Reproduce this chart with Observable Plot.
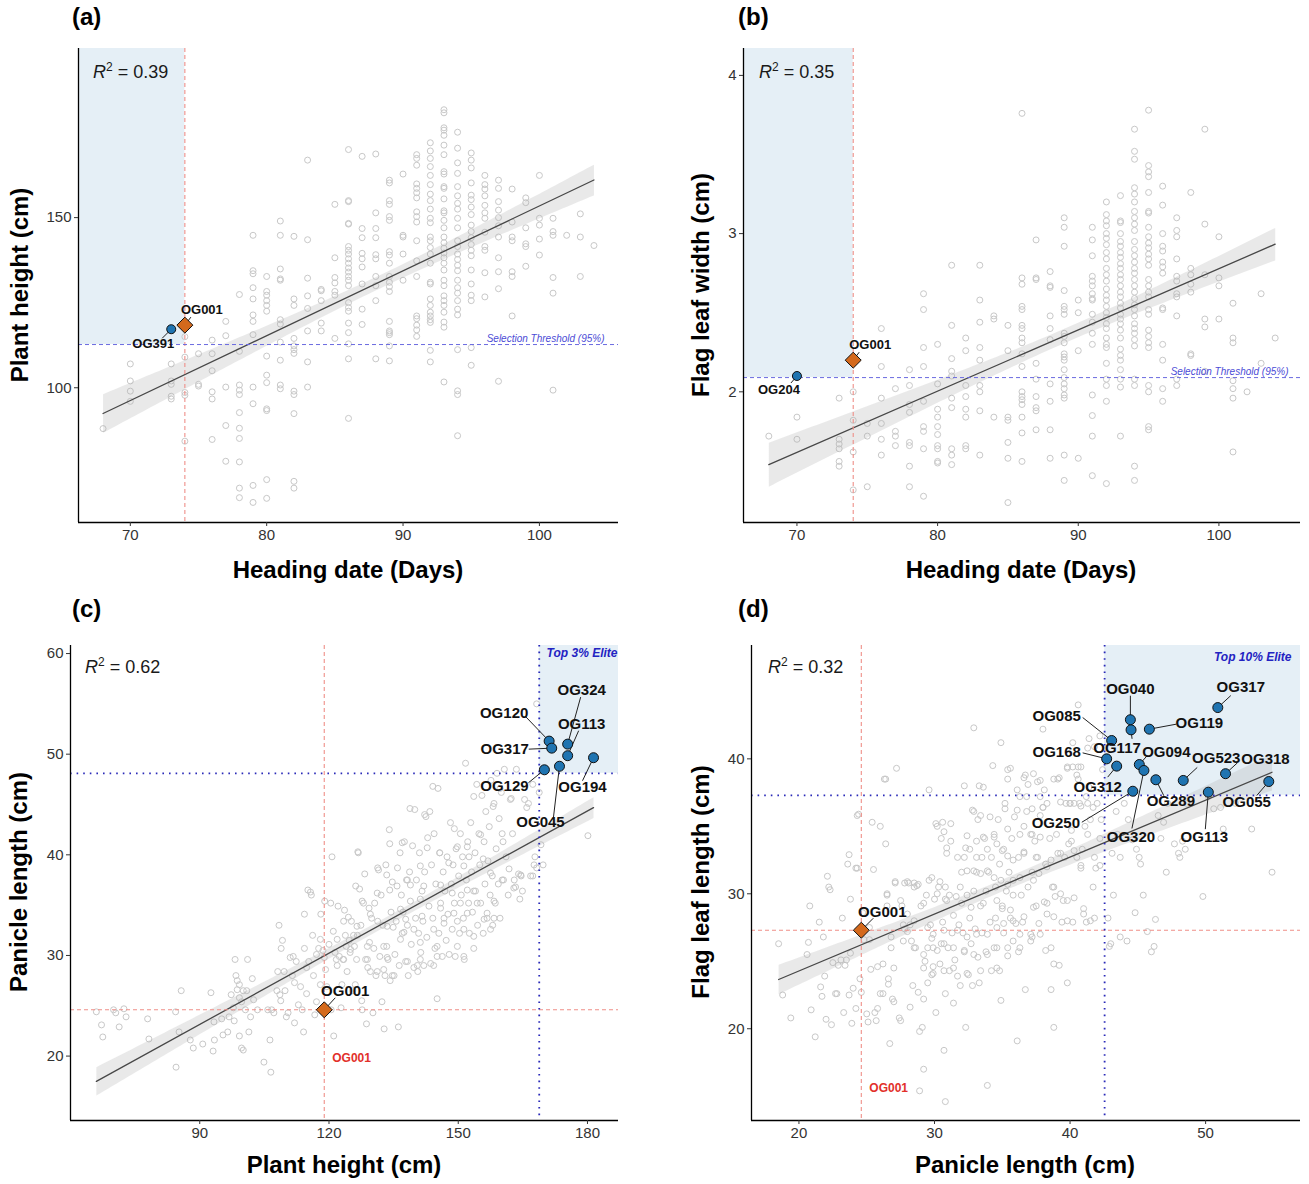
<!DOCTYPE html>
<html>
<head>
<meta charset="utf-8">
<script src="https://cdn.jsdelivr.net/npm/d3@7"></script>
<script src="https://cdn.jsdelivr.net/npm/@observablehq/plot@0.6"></script>
<style>
  body { margin: 0; background: #fff; font-family: "Liberation Sans", Arial, sans-serif; }
  #root { position: relative; width: 1309px; height: 1184px; overflow: hidden; background: #fff; }
  .panel { position: absolute; }
  .tag { position: absolute; font-weight: bold; font-size: 24px; line-height: 24px; color: #000; }
  .xt, .yt { position: absolute; width: 600px; font-weight: bold; font-size: 24px; line-height: 24px; text-align: center; color: #000; white-space: nowrap; }
  .yt { transform: rotate(-90deg); transform-origin: 50% 50%; }
  .r2 { position: absolute; font-size: 18px; line-height: 18px; color: #1a1a1a; white-space: nowrap; }
  .r2 sup { font-size: 12px; line-height: 0; vertical-align: 7px; }
</style>
</head>
<body>
<div id="root"></div>
<script>
// ---------------- DATA ----------------
// (a) Heading date (days) -> plant heights (cm) observed at that day
const headingVsHeight = [
  [68, [88]],
  [70, [107, 102, 99, 96]],
  [73, [107, 102, 101, 97.5, 96.7]],
  [74, [115, 109, 98.6, 97.8, 84.3]],
  [75, [110, 101, 100.5]],
  [76, [114, 110, 105, 98.8, 96.7, 84.8]],
  [77, [119.5, 115.3, 100.2, 88.9, 78.4]],
  [78, [127.4, 110.7, 100.8, 99.3, 98, 92.7, 88.1, 85.1, 78.2, 70.5, 67.7]],
  [79, [144.8, 134.4, 133.5, 129.4, 126.1, 121.4, 119.5, 115.6, 100.2, 95.3, 71.3, 66.3]],
  [80, [132.7, 128.3, 127.2, 125.6, 124.2, 122.5, 109.3, 103.7, 101.5, 93.8, 93.3, 73, 67.5]],
  [81, [149, 144.8, 134.9, 132, 131.6, 120, 118.7, 113.4, 108.1, 100.8, 99.7]],
  [82, [144.5, 126.1, 124.2, 114.5, 112.3, 111.2, 110.1, 99, 98, 92.4, 72.5, 70.5]],
  [83, [166.9, 143.5, 132.2, 127, 123.3, 116.7, 107.6, 100.2]],
  [84, [128.9, 128.5, 125.6, 119, 116.7]],
  [85, [153.9, 138.2, 132.4, 130.8, 128.3, 127.2, 114.5]],
  [86, [170, 155, 154.7, 148.3, 148.1, 141.5, 140.4, 139.3, 137.9, 136.6, 135.2, 134, 132.7, 131.6, 130, 125, 123.6, 122.5, 119, 116.2, 112.9, 108.5, 91]],
  [87, [168, 146.8, 144.1, 139.5, 137.9, 135.5, 130.5, 123.1, 118.6]],
  [88, [168.7, 151.4, 146.8, 144.1, 139.1, 137.9, 132.7, 130, 125.6, 108.5]],
  [89, [161, 160.2, 155, 153.9, 150.3, 149.2, 140, 139, 136.6, 132.7, 131, 129.7, 128.3, 119.5, 116.7, 116.2, 115.6, 112.3, 107.9]],
  [90, [162.8, 144.8, 144.3, 139.3, 131.6]],
  [91, [168.5, 167.4, 165.4, 159.9, 158.6, 157.3, 155.8, 151.7, 150.3, 148.7, 143.2, 137.3, 132.7, 121.1, 120.3, 118.4, 117, 115.1]],
  [92, [172, 169.6, 167.4, 165, 162.4, 159.7, 156.9, 155, 152.5, 149.8, 148.5, 144.3, 143.2, 141.2, 139.3, 136.6, 131, 130.5, 126.1, 124.2, 122.2, 121.1, 120, 119.2, 111, 107.6]],
  [93, [181.7, 180.8, 176.4, 175.7, 174.2, 171.3, 168.5, 163.5, 162.8, 159.1, 158.6, 155.5, 152, 151.4, 149.2, 147, 144.3, 142.6, 141, 139.6, 138.2, 136.6, 134.6, 131.6, 130, 127, 125.6, 124.2, 122.2, 119.3, 117.8, 101.7]],
  [94, [175.1, 170.4, 166.1, 163, 159.1, 156.4, 154.2, 152.5, 149.8, 147, 143.2, 141.5, 139.3, 137.7, 136, 134.4, 131.6, 129.4, 127.8, 125.6, 123.1, 121.4, 111.2, 99.1, 98, 85.9]],
  [95, [169, 166.9, 164.6, 160.2, 156.6, 155.3, 153.1, 150.9, 147.8, 145.9, 144.1, 142.1, 140.4, 138.8, 134.6, 130.5, 127.2, 125.6, 111.8, 106.6]],
  [96, [162.4, 159.7, 158.4, 156.4, 153.6, 151.4, 149.8, 145.7, 141.5, 140.4, 133.8, 126.7]],
  [97, [161, 158.6, 154.7, 152.2, 150, 147.6, 144.3, 138.2, 134.1, 129.1, 101.9]],
  [98, [158.4, 148.7, 144.3, 143.2, 134.1, 132.7, 121.1]],
  [99, [155.8, 154.4, 147, 142.3, 141.5, 135.7]],
  [100, [162.4, 149.8, 147.8, 143.7, 139]],
  [101, [149.8, 145.9, 144.8, 132.4, 127.8, 99.3]],
  [102, [144.8]],
  [103, [151.1, 144.3, 132.7]],
  [104, [141.8]]
];

// (b) Heading date (days) -> flag leaf widths (cm)
const headingVsFlagWidth = [
  [68, [1.72]],
  [70, [1.84, 1.70]],
  [73, [1.96, 1.70, 1.67, 1.64, 1.56, 1.53]],
  [74, [2.0, 1.82, 1.62, 1.38]],
  [75, [1.80, 1.72, 1.40]],
  [76, [2.40, 2.16, 1.96, 1.80, 1.70, 1.60]],
  [77, [2.02, 1.75, 1.72, 1.66]],
  [78, [2.14, 2.04, 1.92, 1.87, 1.68, 1.66, 1.53, 1.40]],
  [79, [2.62, 2.52, 2.28, 2.16, 1.94, 1.78, 1.75, 1.64, 1.34]],
  [80, [2.30, 2.05, 1.89, 1.84, 1.78, 1.73, 1.66, 1.64, 1.56, 1.55]],
  [81, [2.80, 2.42, 2.21, 2.13, 2.10, 1.96, 1.90, 1.64, 1.60, 1.54]],
  [82, [2.34, 2.26, 2.04, 1.97, 1.89, 1.84, 1.66, 1.64]],
  [83, [2.80, 2.58, 2.44, 2.28, 2.20, 2.04, 2.0, 1.88, 1.60]],
  [84, [2.48, 2.46, 1.84]],
  [85, [2.42, 2.26, 1.84, 1.82, 1.68, 1.58, 1.30]],
  [86, [3.76, 2.72, 2.68, 2.54, 2.52, 2.42, 2.40, 2.34, 2.31, 2.24, 2.16, 2.0, 1.97, 1.95, 1.92, 1.84, 1.74, 1.56]],
  [87, [2.96, 2.72, 2.71, 2.18, 2.08, 1.97, 1.90, 1.88, 1.76]],
  [88, [2.76, 2.67, 2.66, 2.48, 2.40, 2.33, 2.05, 1.94, 1.76, 1.58]],
  [89, [3.10, 3.04, 2.92, 2.64, 2.54, 2.52, 2.49, 2.37, 2.35, 2.31, 2.24, 2.22, 2.20, 2.14, 2.09, 2.05, 2.02, 1.98, 1.96, 1.60, 1.44]],
  [90, [2.58, 2.50, 2.26, 1.58]],
  [91, [3.04, 2.96, 2.86, 2.73, 2.70, 2.67, 2.62, 2.59, 2.58, 2.49, 2.44, 2.37, 2.30, 1.98, 1.85, 1.72, 1.47]],
  [92, [3.20, 3.12, 3.08, 3.05, 3.0, 2.97, 2.93, 2.88, 2.84, 2.78, 2.74, 2.70, 2.65, 2.61, 2.58, 2.54, 2.50, 2.47, 2.43, 2.40, 2.34, 2.30, 2.28, 2.18, 2.08, 2.04, 1.94, 1.42]],
  [93, [3.24, 3.08, 3.07, 3.0, 2.95, 2.92, 2.88, 2.85, 2.81, 2.78, 2.74, 2.71, 2.67, 2.63, 2.60, 2.56, 2.53, 2.49, 2.46, 2.43, 2.39, 2.34, 2.27, 2.23, 2.20, 2.14, 2.08, 2.03, 1.72]],
  [94, [3.66, 3.52, 3.47, 3.29, 3.25, 3.20, 3.14, 3.10, 3.06, 3.02, 2.95, 2.90, 2.86, 2.82, 2.78, 2.75, 2.71, 2.67, 2.63, 2.59, 2.55, 2.52, 2.48, 2.43, 2.40, 2.37, 2.33, 2.29, 2.08, 2.04, 1.53, 1.44]],
  [95, [3.78, 3.43, 3.39, 3.36, 3.26, 3.14, 3.13, 3.04, 2.98, 2.94, 2.91, 2.87, 2.84, 2.80, 2.71, 2.67, 2.63, 2.60, 2.52, 2.49, 2.39, 2.35, 2.31, 2.28, 2.04, 2.0, 1.78, 1.76]],
  [96, [3.30, 3.18, 3.0, 2.92, 2.89, 2.82, 2.79, 2.75, 2.53, 2.52, 2.30, 2.20, 2.02, 1.94]],
  [97, [3.10, 3.02, 2.98, 2.84, 2.73, 2.70, 2.62, 2.60, 2.48, 2.08, 2.04]],
  [98, [3.26, 2.78, 2.74, 2.68, 2.63, 2.24, 2.23]],
  [99, [3.66, 3.06, 2.74, 2.46, 2.41, 2.13]],
  [100, [2.98, 2.72, 2.67, 2.46]],
  [101, [2.56, 2.34, 2.31, 2.07, 2.02, 1.96, 1.62]],
  [102, [2.0]],
  [103, [2.62, 2.18]],
  [104, [2.34]]
];

// (c) [plant height (cm), panicle length (cm)]
const heightVsPanicle = [
  [66,24.4],[67.2,23.1],[67.5,21.9],[70,24.6],[70.5,24.3],[71.3,22.9],[72.4,24.7],[72.9,23.9],[77.9,23.7],[78.2,21.7],
  [84.4,24.4],[84.5,18.9],[85.2,22.4],[85.7,26.5],[87.8,21.6],[88.5,20.8],[90.7,21.2],[92.6,26.3],[93.3,23.4],[93.1,20.5],
  [93.4,21.6],[95.1,23.7],[95.4,22.1],[96.5,22.4],[96.8,23.9],[97.3,26.1],[97.8,24.8],[98,23.5],[98.2,29.6],[98.4,28],
  [98.7,27.5],[98.7,26.6],[99.2,27.1],[99.2,25.8],[99.7,25.4],[99.2,22],[99.7,20.8],[100.1,20.6],[100.1,26.5],[100.6,24.6],
  [100.9,26.5],[101.1,29.6],[101.4,22.4],[101.8,23.9],[102.2,27.7],[102.5,25.6],[103.4,24.6],[104.9,19.4],[105.8,24.6],[106.3,21.6],
  [106.5,18.4],[106.7,24.6],[107.2,24.3],[108.1,28.4],[107.9,26.5],[108.4,33],[108.6,26.1],[108.8,25.5],[108.9,30.7],[109.2,31.5],
  [109.6,28.4],[109.8,26.5],[110.1,23.9],[110.5,24.3],[111,29.8],[111.5,28],[111.7,29.9],[112,27.3],[112,23.3],[112.4,29.4],
  [112.9,25.1],[113.4,26.9],[113.8,24.6],[114.1,22.4],[114.3,34.1],[114.3,30.7],[114.8,28.8],[114.8,26.2],[115.3,29.4],[115.7,36.3],
  [115.9,36],[116.2,32],[116.4,28],[116.7,24.1],[117.1,25.4],[117.1,30.1],[117.6,30.7],[118,27.1],[118.1,34.1],[118.6,30.5],
  [118.9,29.8],[119,35.4],[119.2,28.6],[119.5,26.9],[120,31.1],[120.5,24.6],[120.7,39.8],[121,32.4],[121.1,22],[121.4,30.3],
  [121.7,29.6],[121.9,29],[122.1,34.9],[122.4,29.9],[122.8,24.8],[123,27.1],[123.3,29.6],[123.6,34.5],[123.8,32],[124,30.9],
  [124.2,28.4],[124.5,33.8],[124.7,31.5],[124.9,30.3],[125.2,33.4],[125.5,26.5],[125.7,32],[125.9,30.9],[126.1,27.1],[126.4,29.6],
  [126.6,32],[126.8,40.2],[127.1,36.6],[127.4,33],[127.6,25.5],[127.7,24.6],[128,35.2],[128.3,38.1],[128.5,29.6],[128.7,23.2],
  [129,28.8],[129.3,34.7],[129.4,31.3],[129.6,28.4],[129.9,33.7],[130.2,24.3],[130.4,30.7],[130.6,35.2],[130.9,28],[131.2,28.4],
  [131.3,33.4],[131.5,38.5],[131.8,29.9],[132.1,36],[132.3,25.4],[132.5,33],[132.8,22.7],[133,28],[133.2,39],[133.4,30.9],
  [133.7,29.6],[134,42.5],[134.2,27.5],[134.4,34.3],[134.7,37.3],[134.9,32.8],[135.1,28],[135.3,30.1],[135.6,33.4],[135.9,38.7],
  [136.1,22.9],[136.3,29],[136.5,40.2],[136.8,36],[137,32.2],[137.2,34.3],[137.5,41.3],[137.8,29.4],[138,37.5],[138.2,33],
  [138.4,28],[138.7,38.3],[138.9,35.4],[139.1,31.1],[139.4,40.9],[139.7,28.8],[139.9,44.5],[140.1,33.7],[140.3,37.5],[140.6,28.4],
  [140.8,32.2],[141,40.2],[141.3,30.3],[141.6,36.4],[141.8,33.4],[142,29],[142.2,38.3],[142.5,43.8],[142.7,31.8],[142.9,41.7],
  [143.2,34.9],[143.4,44.3],[143.6,29.2],[143.8,39],[144.1,33.7],[144.4,42.1],[144.6,30.7],[144.8,37.1],[145.1,25.7],[145.3,46.6],
  [145.5,32.2],[145.7,40.2],[145.9,35.2],[146.3,29.9],[146.5,38.3],[146.7,33.7],[146.9,36.4],[147.2,31.5],[147.4,39.8],[147.6,34.1],
  [147.9,30.1],[148.2,43.2],[148.4,37.1],[148.6,32.6],[148.8,39],[149.1,35.2],[149.3,29.9],[149.5,40.6],[149.8,33.4],[150.1,37.9],
  [150.3,32.2],[150.5,42.1],[150.7,36],[151,39.8],[151.2,33.7],[151.4,29.6],[151.7,49.1],[151.9,37.5],[152.2,41.3],[152.4,35.2],
  [152.6,32.2],[152.9,43.2],[153.1,38.3],[153.3,34.3],[153.6,30.7],[153.9,40.2],[154,36.4],[154.3,47],[154.5,33],[154.8,42.1],
  [155,39],[155.2,35.2],[155.5,45.9],[155.8,32.2],[156,41.3],[156.2,37.1],[156.4,44.3],[156.7,33.7],[156.9,39.4],[157.2,42.8],
  [157.4,36],[157.6,47.4],[157.9,37.9],[158,33],[158.3,45.1],[158.6,35.2],[158.8,40.6],[159,48.1],[159.3,37.1],[159.5,43.6],
  [159.7,33.7],[160,46.2],[160.2,42.1],[160.5,37.5],[160.7,48.5],[161.1,39.8],[161.6,36],[162.1,45.5],[162.6,42.1],[163,37.5],
  [163.3,36.8],[163.5,48.5],[164,38.1],[164.3,35.6],[164.6,37.9],[164.9,36.4],[165.4,45.5],[165.9,44.7],[166.3,45.1],[166.8,37.9],
  [167.3,37.9],[167.8,39.8],[168.2,55],[168.2,38.7],[169.2,41],[169.7,39],[180.1,41.9],[168.8,46.2],[167.3,47],
  [126.2,36.9],[131.2,36.2],[134.1,36.5],[135.8,36.9],[138.9,37.0],[142.0,36.9],[145.9,37.0],[148.6,36.2],[152.1,36.5],[153.6,36.4],
  [150.5,35.2],[154.4,35.2],[158.3,35.4],[141.2,35.6],[136.6,34.6],[137.8,33.6],[141.6,33.9],[145.9,34.7],[149.0,34.2],[152.1,34.2],
  [156.7,34.2],[158.3,33.7],[123.4,33.4],[126.5,32.9],[129.6,34.1],[133.5,32.9],[137.4,32.3],[139.7,32.6],[144.3,32.6],[146.7,33.2],
  [151.3,32.6],[156.0,33.6],[157.5,32.6],[118.0,31.6],[121.9,31.6],[125.0,30.6],[128.9,30.9],[132.7,30.9],[136.6,31.6],[141.2,31.3],
  [145.1,30.9],[149.8,30.9],[153.6,31.9],[123.4,29.6],[128.9,29.6],[133.5,29.8],[138.2,29.4],[141.2,29.6],[145.1,29.9],[151.3,29.9],
  [132.7,28.6],[140.5,29.0],[144.3,29.0],[134.7,28.0],[131.3,38.7],[133.4,38.0],[138.2,37.5],[141.2,38.9],[147.8,39.2],[151.3,38.9],
  [157.5,38.2],[161.8,38.6],[164.5,38.0],[160.2,37.5],[162.9,36.7],[134.1,41.1],[137.0,41.2],[142.8,40.7],[145.7,40.2],[149.8,40.8],
  [152.5,39.8],[155.8,39.6],[142.2,44.0],[149.1,42.6],[152.1,40.8],[155.2,42.0],[160.4,41.3],[158.1,44.8],[153.6,45.8],[159.7,46.6],
  [162.3,45.6],[144.1,46.8],[138.8,44.6],[126.7,40.3],[115.1,36.5],[120.4,35.2],[127.7,35.4],[167.6,39.0]
];

// (d) [panicle length (cm), flag leaf length (cm)]
const panicleVsFlagLength = [
  [18.5,26.3],[18.8,22.5],[19.4,20.8],[20.6,25.5],[20.7,26.4],[20.8,29.1],[20.9,21.4],[21.2,19.4],[21.5,27.9],[21.6,23.1],
  [21.7,22.4],[21.8,26.8],[21.9,23.9],[22,20.7],[22.1,31.3],[22.2,30.5],[22.3,30.3],[22.4,20.3],[22.5,24.9],[22.7,22.6],
  [22.8,22.6],[22.9,24.7],[23.1,25.1],[23.2,28.2],[23.3,21.2],[23.4,24.7],[23.5,25.1],[23.6,32.2],[23.7,22.5],[23.8,25.6],
  [23.8,29.6],[23.9,20.4],[24,23],[24.2,21.5],[24.2,31.9],[24.3,35.8],[24.4,35.9],[24.5,23.7],[24.6,22.7],[24.7,28.6],
  [24.8,26.6],[25,21.1],[25.1,20.5],[25.2,27.5],[25.2,26.6],[25.3,24.4],[25.4,35.3],[25.5,31.8],[25.6,21.2],[25.7,20.6],
  [25.8,24.6],[25.8,21.5],[26,22.6],[26,35],[26.2,24.8],[26.2,22.6],[26.3,38.5],[26.4,33.7],[26.5,29.9],[26.5,29.1],
  [26.6,23.7],[26.6,23.3],[26.7,18.9],[26.8,26.8],[26.8,26],[26.9,22.2],[27,22],[27.1,30.8],[27.2,39.3],[27.4,20.8],
  [27.5,20.6],[27.6,29.1],[27.7,27.7],[27.8,30.8],[27.8,27.4],[28,27.2],[28.1,30.8],[28.2,21.6],[28.2,27.7],[28.3,26.5],
  [28.4,23.2],[28.5,30.8],[28.6,26],[28.7,30.6],[28.8,22.7],[28.9,19.8],[28.9,15.4],[29,29.1],[29.1,20.1],[29.2,22.2],
  [29.2,17],[29.3,25],[29.4,29.9],[29.5,26],[29.5,23.4],[29.6,31],[29.7,27.7],[29.8,24],[29.8,26.7],[29.9,24.6],
  [30,29.6],[30.1,21.2],[30.2,35],[30.2,25.8],[30.3,30.5],[30.4,24.8],[30.5,34.1],[30.5,26.3],[30.6,27.9],[30.7,18.4],
  [30.8,14.6],[30.8,29.6],[30.8,22.6],[30.9,33],[31,26],[31.1,29.9],[31.1,24.3],[31.2,33.9],[31.3,27.1],[31.4,21.9],
  [31.4,28.4],[31.5,25.1],[31.6,29.8],[31.7,23.9],[31.8,27.7],[31.9,23.2],[32,31.6],[32.1,27.1],[32.2,25.7],[32.2,32.7],
  [32.3,20.1],[32.4,29.9],[32.5,24],[32.6,28.2],[32.6,33.3],[32.7,26.3],[32.8,23.2],[32.9,36.1],[32.9,30.2],[33,27.4],
  [33.1,31.6],[33.2,25.3],[33.2,35.5],[33.3,23.4],[33.4,29.1],[33.5,32.7],[33.5,27.1],[33.6,37.9],[33.7,34.1],[33.8,30.2],
  [33.8,25.7],[33.9,15.8],[34,31.6],[34.1,27.9],[34.2,32.7],[34.2,24.3],[34.3,39.5],[34.4,34.4],[34.5,28.2],[34.5,30.5],
  [34.6,26],[34.7,35.5],[34.8,24.3],[34.8,32.2],[34.9,22.1],[35,29.1],[35.1,33.3],[35.1,27.1],[35.2,36.7],[35.3,30.2],
  [35.4,39.2],[35.4,25.4],[35.5,31.6],[35.6,28.2],[35.7,34.1],[35.8,26.5],[35.8,29.9],[35.9,35.7],[36,27.8],[36.1,19.1],
  [36.2,32.7],[36.2,25.7],[36.3,37.2],[36.4,29.9],[36.5,27.9],[36.6,33],[36.6,35],[36.7,22.9],[36.8,36.1],[36.9,30.5],
  [36.9,38.1],[37.1,34.4],[37.2,26.8],[37.2,31.6],[37.3,38.9],[37.4,33.9],[37.5,29.1],[37.5,32.7],[37.7,27.8],[37.8,35.8],
  [37.8,38.4],[38,36.4],[38.1,29.4],[38.2,32.2],[38.2,25.8],[38.3,28.5],[38.5,34.1],[38.6,22.9],[38.7,30.5],[38.8,20.1],
  [38.8,24.8],[38.9,29.8],[39.1,38.5],[39.1,33],[39.2,24.7],[39.4,27.9],[39.5,29.5],[39.6,32.7],[39.7,36.7],[39.8,23.4],
  [39.8,39.4],[39.9,33.7],[40,36.7],[40.1,34.7],[40.2,39.4],[40.2,27.9],[40.3,36.7],[40.5,32.7],[40.6,44],[40.6,39.4],
  [40.7,36.7],[40.8,31.9],[40.9,33.3],[41.1,35],[41.2,27.9],[41.2,37.2],[41.3,40.8],[41.4,41.5],[41.5,35.5],[41.7,30.5],
  [41.8,28.2],[41.8,32.7],[41.9,31.9],[42,36.7],[42.2,34.1],[42.2,41.7],[42.3,35.5],[42.4,39.2],[42.8,28.2],[42.9,26.1],
  [43.1,33],[43.2,29.9],[43.4,36.1],[43.5,34.4],[43.7,32.7],[44,36.7],[44.2,26.5],[44.3,35.5],[44.6,34],[44.8,28.6],
  [44.9,33.3],[45.1,32.7],[45.2,32.2],[45.4,29.9],[45.7,27.2],[46,25.7],[46.2,26.1],[46.3,28.1],[46.5,35.8],[46.7,34.1],
  [46.9,35.3],[47.1,31.6],[47.2,36.7],[47.7,33.7],[48,33],[48.1,32.7],[48.3,33.9],[48.5,33.3],[48.6,36.7],[49.8,29.8],
  [50.2,37.2],[50.6,36.3],[51.1,36.4],[51.3,34.8],[52.2,36.7],[53.4,34.8],[54.9,31.6],
  [32.9,42.3],[34.9,41.2],[35.6,39.3],[36.6,38.6],[38,42.2],[39.2,38.6],[40.2,41.2],[40.6,38.5],[41.8,40.9],[23.7,32.9],[24.3,31.9],
  [29.6,37.7],[32.2,38.0],[33.3,38.0],[35.4,38.5],[36.7,38.8],[37.6,38.3],[38.1,37.7],[38.8,38.5],[39.8,39.3],[40.8,39.4],
  [40.5,38.8],[41.4,37.9],[36.1,37.7],[36.8,37.2],[37.8,37.2],[38.3,36.7],[39.3,36.8],[40.0,36.7],[40.8,36.5],[41.3,36.7],
  [41.7,36.4],[32.8,36.2],[33.4,35.8],[34.1,35.7],[35.2,36.3],[36.1,36.2],[37.2,36.3],[38.0,36.4],[30.1,35.2],[30.6,35.3],
  [31.2,35.2],[30.7,34.6],[32.4,34.3],[33.1,33.9],[33.6,34.2],[34.4,34.2],[35.4,34.8],[36.3,34.4],[37.2,34.4],[37.8,34.2],
  [39.0,34.4],[40.1,33.9],[41.3,34.4],[30.9,33.4],[31.7,32.7],[32.3,33.4],[33.1,32.7],[33.9,33.3],[34.6,33.7],[35.0,33.2],
  [35.4,32.8],[35.8,32.5],[36.6,33.1],[37.6,32.7],[38.6,32.5],[39.3,33.0],[40.3,33.2],[40.8,32.1],[42.2,32.1],[27.1,30.9],
  [28.0,30.9],[28.5,30.5],[28.8,30.7],[29.8,31.2],[30.4,30.9],[30.8,30.5],[31.9,30.5],[32.4,31.7],[32.9,31.7],[33.4,31.5],
  [33.9,31.7],[34.4,31.2],[34.9,31.0],[35.4,30.7],[35.8,31.0],[36.3,31.2],[37.3,31.0],[37.7,31.5],[38.3,32.0],[38.8,30.5],
  [39.3,30.0],[39.8,29.5],[40.3,29.7],[41.0,28.9],[26.5,30.0],[27.5,29.5],[28.0,28.5],[29.2,29.3],[30.2,30.0],[30.9,29.5],
  [32.0,29.3],[32.7,29.0],[33.6,29.3],[34.6,29.5],[35.0,28.9],[35.6,28.8],[36.6,28.3],[37.3,29.0],[38.3,29.3],[38.8,28.3],
  [39.8,28.0],[41.0,28.5],[41.5,28.0],[28.5,28.0],[29.5,27.5],[29.9,27.0],[30.7,27.3],[31.7,27.3],[32.4,26.8],[33.1,27.0],
  [33.9,27.0],[34.6,27.5],[35.1,27.8],[35.8,28.0],[36.3,27.0],[37.1,27.0],[37.8,27.0],[38.6,26.0],[27.7,26.5],[28.5,26.0],
  [29.2,25.5],[29.9,26.0],[30.7,26.3],[31.4,26.0],[32.2,25.8],[32.9,25.5],[33.9,25.5],[34.4,26.0],[35.4,26.0],[36.3,26.0],
  [37.1,26.5],[27.0,24.5],[29.2,24.5],[29.9,24.1],[30.7,24.3],[31.4,24.5],[32.4,24.1],[33.4,24.3],[34.6,24.5],[43.0,26.3],
  [43.7,26.8],[26.4,38.5]
];

// Highlighted accessions: [id, x, y]
const eliteA = [["OG391", 73, 117.2]];
const checkA = ["OG001", 74, 118.4];
const eliteB = [["OG204", 70, 2.10]];
const checkB = ["OG001", 74, 2.20];
const eliteC = [
  ["OG120", 171.1, 51.3], ["OG317", 171.7, 50.6], ["OG324", 175.4, 51.0], ["OG113", 175.4, 49.85],
  ["OG194", 181.4, 49.65], ["OG045", 173.5, 48.8], ["OG129", 170.0, 48.45]
];
const checkC = ["OG001", 118.9, 24.6];
const eliteD = [
  ["OG317", 50.9, 43.8], ["OG040", 44.45, 42.9], ["OG117", 44.5, 42.15], ["OG119", 45.85, 42.2],
  ["OG085", 43.07, 41.36], ["OG168", 42.7, 40.0], ["OG312", 43.44, 39.46], ["OG094", 45.11, 39.58],
  ["OG320", 45.45, 39.14], ["OG289", 46.33, 38.45], ["OG523", 48.35, 38.4], ["OG318", 51.47, 38.9],
  ["OG055", 54.66, 38.32], ["OG113", 50.2, 37.53], ["OG250", 44.63, 37.6]
];
const checkD = ["OG001", 24.6, 27.3];

// Selection thresholds
const thresholdA = 112.7;
const thresholdB = 2.09;
const thresholdC = [168.8, 48.1];
const thresholdD = [42.55, 37.3];

const r2Values = ["0.39", "0.35", "0.62", "0.32"];
const tickValues = {
  ax: [70, 80, 90, 100], ay: [100, 150],
  bx: [70, 80, 90, 100], by: [2, 3, 4],
  cx: [90, 120, 150, 180], cy: [20, 30, 40, 50, 60],
  dx: [20, 30, 40, 50], dy: [20, 30, 40]
};

// ---------------- LAYOUT / STYLE CONFIG ----------------
// label offsets in px relative to point: [textDx, textDy, leaderDx, leaderDy]
const labelOffsets = {
  a: {OG001: [17, -15, 6, -8], OG391: [-18, 15, -9, 9]},
  b: {OG001: [17, -15, 6, -8], OG204: [-18, 14, -6, 7]},
  c: {OG120: [-45, -28, -24, -25], OG317: [-47, 1, -23, 1], OG324: [14, -54, 13, -47], OG113: [14, -32, 11, -25],
      OG194: [-11, 29, -11, 23], OG045: [-19, 56, -6, 51], OG129: [-40, 16, -16, 13], OG001: [21, -19, 11, -12]},
  d: {OG040: [0, -31, 0, -24], OG317: [23, -20, 13, -12], OG085: [-55, -24, -29, -23], OG119: [50, -6, 27, -5],
      OG117: [-14, 18, 1, 9], OG094: [27, -12, 8, -9], OG168: [-50, -7, -24, -6], OG312: [-19, 21, -9, 11],
      OG523: [33, -22, 14, -13], OG318: [40, -15, 12, -11], OG289: [15, 21, 8, 16], OG055: [-22, 21, -12, 14],
      OG250: [-77, 32, -51, 31], OG320: [-13, 67, -12, 58], OG113: [-4, 45, -3, 37], OG001: [21, -18, 12, -12]}
};

const BLUE_PT = "#1f74b1", ORANGE = "#d4691c", GRAY_PT = "#c8c8c8";
const RED_LINE = "#ef8f88", BLUE_DASH = "#6b6be0", BLUE_DOT = "#2a2ab8";
const FONT = "'Liberation Sans', Arial, Helvetica, sans-serif";

const toRec = ([id, x, y]) => ({id, x, y});
const root = document.getElementById("root");

function panel(cfg) {
  const {W, H, m, xd, yd} = cfg;
  const sx = Plot.scale({x: {domain: xd, range: [m.l, W - m.r]}});
  const sy = Plot.scale({y: {domain: yd, range: [H - m.b, m.t]}});
  const shift = (x, y, dx, dy) => [sx.invert(sx.apply(x) + dx), sy.invert(sy.apply(y) + dy)];
  const elite = cfg.elite.map(toRec);
  const check = toRec(cfg.check);
  const labelled = elite.concat([check]).map(d => {
    const o = cfg.offsets[d.id];
    const [tx, ty] = shift(d.x, d.y, o[0], o[1]);
    const [lx, ly] = shift(d.x, d.y, o[2], o[3]);
    return {...d, tx, ty, lx, ly};
  });
  const all = cfg.gray.concat(elite, [check]);
  const marks = [
    Plot.rect([cfg.rect], {x1: "x1", x2: "x2", y1: "y1", y2: "y2", fill: "#e5eff6"}),
    Plot.dot(cfg.gray, {x: "x", y: "y", r: 3, stroke: GRAY_PT, strokeWidth: 1, fill: "none"}),
    Plot.linearRegressionY(all, {x: "x", y: "y", stroke: "#474747", strokeWidth: 1.3, fill: "#b0b0b0", fillOpacity: 0.28}),
    ...cfg.lines,
    Plot.link(labelled, {x1: "x", y1: "y", x2: "lx", y2: "ly", stroke: "#222", strokeWidth: 1}),
    Plot.dot(elite, {x: "x", y: "y", r: cfg.eliteR, fill: BLUE_PT, stroke: "#111", strokeWidth: 1}),
    Plot.dot([check], {x: "x", y: "y", r: 7.2, symbol: "diamond2", fill: ORANGE, stroke: "#111", strokeWidth: 1}),
    Plot.text(labelled, {x: "tx", y: "ty", text: "id", fontWeight: "bold", fontSize: cfg.labelSize, fill: "#111"}),
    ...cfg.texts,
    Plot.ruleX([xd[0]], {stroke: "#000", strokeWidth: 1.3}),
    Plot.ruleY([yd[0]], {stroke: "#000", strokeWidth: 1.3}),
    Plot.axisX({ticks: cfg.xt, tickSize: 4, tickPadding: 3, fontSize: 15, label: null, tickFormat: d => String(d)}),
    Plot.axisY({ticks: cfg.yt, tickSize: 4, tickPadding: 3, fontSize: 15, label: null, tickFormat: d => String(d)})
  ];
  const svg = Plot.plot({
    width: W, height: H,
    marginLeft: m.l, marginRight: m.r, marginTop: m.t, marginBottom: m.b,
    x: {domain: xd}, y: {domain: yd},
    style: {fontFamily: FONT, color: "#333", background: "transparent", overflow: "visible"},
    marks
  });
  svg.classList.add("panel");
  svg.style.left = cfg.left + "px";
  svg.style.top = cfg.top + "px";
  root.appendChild(svg);
}

function addDiv(cls, html, left, top) {
  const d = document.createElement("div");
  d.className = cls; d.innerHTML = html;
  d.style.left = left + "px"; d.style.top = top + "px";
  root.appendChild(d);
  return d;
}

const thresholdText = (xd, y, dx) => Plot.text(["Selection Threshold (95%)"], {
  x: xd[1], y, text: d => d, textAnchor: "end", lineAnchor: "bottom", dx, dy: -3,
  fontSize: 10, fontStyle: "italic", fill: "#4b4bd6"
});
const eliteText = (label, xd, yd, dx, dy) => Plot.text([label], {
  x: xd[1], y: yd[1], text: d => d, textAnchor: "end", lineAnchor: "top", dx, dy,
  fontSize: 12, fontWeight: "bold", fontStyle: "italic", fill: "#2323c2"
});
const checkText = (x, y) => Plot.text(["OG001"], {
  x, y, text: d => d, textAnchor: "start", dx: 8, fontSize: 12, fontWeight: "bold", fill: "#e2302a"
});

// ---------- Panel (a) ----------
const xdA = [66.2, 105.8], ydA = [60.4, 199.7];
panel({
  left: 0, top: 0, W: 650, H: 590, m: {l: 78, r: 32, t: 48, b: 68}, xd: xdA, yd: ydA,
  xt: tickValues.ax, yt: tickValues.ay,
  gray: headingVsHeight.flatMap(([d, ys]) => ys.map(y => ({x: d, y}))),
  elite: eliteA, check: checkA, offsets: labelOffsets.a, eliteR: 4.5, labelSize: 13,
  rect: {x1: xdA[0], x2: checkA[1], y1: thresholdA, y2: ydA[1]},
  lines: [
    Plot.ruleX([checkA[1]], {stroke: RED_LINE, strokeDasharray: "4,3", strokeWidth: 1.1}),
    Plot.ruleY([thresholdA], {stroke: BLUE_DASH, strokeDasharray: "4,3", strokeWidth: 1})
  ],
  texts: [thresholdText(xdA, thresholdA, -14)]
});

// ---------- Panel (b) ----------
const xdB = [66.2, 105.8], ydB = [1.174, 4.17];
panel({
  left: 650, top: 0, W: 659, H: 590, m: {l: 93, r: 9, t: 48, b: 68}, xd: xdB, yd: ydB,
  xt: tickValues.bx, yt: tickValues.by,
  gray: headingVsFlagWidth.flatMap(([d, ys]) => ys.map(y => ({x: d, y}))),
  elite: eliteB, check: checkB, offsets: labelOffsets.b, eliteR: 4.5, labelSize: 13,
  rect: {x1: xdB[0], x2: checkB[1], y1: thresholdB, y2: ydB[1]},
  lines: [
    Plot.ruleX([checkB[1]], {stroke: RED_LINE, strokeDasharray: "4,3", strokeWidth: 1.1}),
    Plot.ruleY([thresholdB], {stroke: BLUE_DASH, strokeDasharray: "4,3", strokeWidth: 1})
  ],
  texts: [thresholdText(xdB, thresholdB, -12)]
});

// ---------- Panel (c) ----------
const xdC = [60, 187.2], ydC = [13.6, 60.8];
panel({
  left: 0, top: 590, W: 650, H: 594, m: {l: 70, r: 32, t: 55, b: 64}, xd: xdC, yd: ydC,
  xt: tickValues.cx, yt: tickValues.cy,
  gray: heightVsPanicle.map(([x, y]) => ({x, y})),
  elite: eliteC, check: checkC, offsets: labelOffsets.c, eliteR: 5, labelSize: 15,
  rect: {x1: thresholdC[0], x2: xdC[1], y1: thresholdC[1], y2: ydC[1]},
  lines: [
    Plot.ruleX([checkC[1]], {stroke: RED_LINE, strokeDasharray: "4,3", strokeWidth: 1.1}),
    Plot.ruleY([checkC[2]], {stroke: RED_LINE, strokeDasharray: "4,3", strokeWidth: 1.1}),
    Plot.ruleX([thresholdC[0]], {stroke: BLUE_DOT, strokeDasharray: "1.6,5", strokeWidth: 1.8}),
    Plot.ruleY([thresholdC[1]], {stroke: BLUE_DOT, strokeDasharray: "1.6,5", strokeWidth: 1.8})
  ],
  texts: [eliteText("Top 3% Elite", xdC, ydC, -1, 3), checkText(checkC[1], 19.8)]
});

// ---------- Panel (d) ----------
const xdD = [16.5, 57], ydD = [13.2, 48.4];
panel({
  left: 650, top: 590, W: 659, H: 594, m: {l: 101, r: 9, t: 55, b: 64}, xd: xdD, yd: ydD,
  xt: tickValues.dx, yt: tickValues.dy,
  gray: panicleVsFlagLength.map(([x, y]) => ({x, y})),
  elite: eliteD, check: checkD, offsets: labelOffsets.d, eliteR: 5, labelSize: 15,
  rect: {x1: thresholdD[0], x2: xdD[1], y1: thresholdD[1], y2: ydD[1]},
  lines: [
    Plot.ruleX([checkD[1]], {stroke: RED_LINE, strokeDasharray: "4,3", strokeWidth: 1.1}),
    Plot.ruleY([checkD[2]], {stroke: RED_LINE, strokeDasharray: "4,3", strokeWidth: 1.1}),
    Plot.ruleX([thresholdD[0]], {stroke: BLUE_DOT, strokeDasharray: "1.6,5", strokeWidth: 1.8}),
    Plot.ruleY([thresholdD[1]], {stroke: BLUE_DOT, strokeDasharray: "1.6,5", strokeWidth: 1.8})
  ],
  texts: [eliteText("Top 10% Elite", xdD, ydD, -9, 7), checkText(checkD[1], 15.6)]
});

// ---------- HTML text: tags, axis titles, R² ----------
addDiv("tag", "(a)", 72, 5);
addDiv("tag", "(b)", 738, 5);
addDiv("tag", "(c)", 72, 597);
addDiv("tag", "(d)", 738, 597);

const xTitle = (t, cx, cy) => addDiv("xt", t, cx - 300, cy - 12);
const yTitle = (t, cx, cy) => addDiv("yt", t, cx - 300, cy - 12);
xTitle("Heading date (Days)", 348, 570);
yTitle("Plant height (cm)", 20, 285);
xTitle("Heading date (Days)", 1021, 570);
yTitle("Flag leaf width (cm)", 701, 285);
xTitle("Plant height (cm)", 344, 1165);
yTitle("Panicle length (cm)", 19, 882);
xTitle("Panicle length (cm)", 1025, 1165);
yTitle("Flag leaf length (cm)", 701, 882);

const r2 = v => `<i>R</i><sup>2</sup> = ${v}`;
addDiv("r2", r2(r2Values[0]), 93, 63);
addDiv("r2", r2(r2Values[1]), 759, 63);
addDiv("r2", r2(r2Values[2]), 85, 658);
addDiv("r2", r2(r2Values[3]), 768, 658);
</script>
</body>
</html>
